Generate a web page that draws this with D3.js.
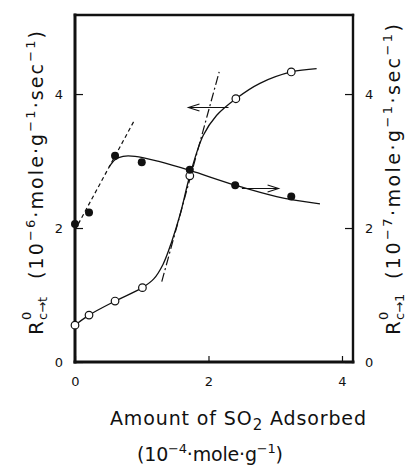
<!DOCTYPE html>
<html>
<head>
<meta charset="utf-8">
<script src="https://cdn.jsdelivr.net/npm/d3@7"></script>
<style>
  html, body { margin: 0; padding: 0; background: #fff; }
  svg { display: block; }
  text { font-family: 'DejaVu Sans', sans-serif; fill: #111; }
  .axis path { display: none; }
  .axis line { stroke: #111; stroke-width: 1.2; }
  .axis text { font-size: 13px; }
</style>
</head>
<body>
<div id="chart"></div>
<script>
// tick labels
const xTicks = [0, 2, 4];
const yTicks = [0, 2, 4];

// open circles: R c->t (left axis)
const openX = [0, 0.21, 0.60, 1.01, 1.72, 2.41, 3.24];
const openY = [0.55, 0.70, 0.91, 1.11, 2.78, 3.93, 4.33];
// filled circles: R c->1 (right axis)
const filledX = [0, 0.21, 0.60, 1.00, 1.72, 2.40, 3.24];
const filledY = [2.06, 2.23, 3.08, 2.98, 2.87, 2.64, 2.47];

// hand drawn curves
const openCurveX = [0, 0.21, 0.60, 1.01, 1.18, 1.32, 1.45, 1.58, 1.72, 1.92, 2.12, 2.41, 2.77, 3.24, 3.62];
const openCurveY = [0.55, 0.70, 0.91, 1.11, 1.24, 1.46, 1.80, 2.22, 2.78, 3.38, 3.68, 3.93, 4.16, 4.33, 4.38];
const filledCurveX = [0.51, 0.60, 0.72, 0.90, 1.27, 1.72, 2.40, 3.02, 3.67];
const filledCurveY = [2.91, 3.02, 3.07, 3.07, 2.99, 2.86, 2.64, 2.47, 2.36];

// initial slope (dashed) and tangent at inflection (dash-dot)
const slopeX = [0, 0.88];
const slopeY = [1.97, 3.59];
const tangentX = [1.30, 2.16];
const tangentY = [1.20, 4.33];

// arrows pointing to the axis each series belongs to
const leftArrowX = [2.30, 1.70];
const leftArrowY = [3.80, 3.80];
const rightArrowX = [2.50, 3.05];
const rightArrowY = [2.59, 2.59];

const width = 414, height = 472;
const margin = { top: 15, right: 61, bottom: 110, left: 75 };

const x = d3.scaleLinear().domain([0, 4.165]).range([margin.left, width - margin.right]);
const y = d3.scaleLinear().domain([0, 5.18]).range([height - margin.bottom, margin.top]);

const svg = d3.select('#chart').append('svg')
    .attr('width', width)
    .attr('height', height);

// axes, ticks point inward
svg.append('g')
    .attr('class', 'axis')
    .attr('transform', `translate(0,${y(0)})`)
    .call(d3.axisBottom(x).tickValues(xTicks).tickSize(-6).tickPadding(15).tickFormat(d3.format('d')));

svg.append('g')
    .attr('class', 'axis')
    .attr('transform', `translate(${x(0)},0)`)
    .call(d3.axisLeft(y).tickValues(yTicks).tickSize(-8).tickPadding(12).tickFormat(d3.format('d')));

svg.append('g')
    .attr('class', 'axis')
    .attr('transform', `translate(${x.range()[1]},0)`)
    .call(d3.axisRight(y).tickValues(yTicks).tickSize(-8).tickPadding(12).tickFormat(d3.format('d')));

// frame
const x0 = x.range()[0], x1 = x.range()[1], yb = y.range()[0], yt = y.range()[1];
const frame = [
    { a: [x0, yt, x0, yb], w: 3 },
    { a: [x0, yb, x1, yb], w: 3 },
    { a: [x1, yt, x1, yb], w: 2.4 },
    { a: [x0, yt, x1, yt], w: 2.4 }
];
svg.selectAll('.frame').data(frame).enter().append('line')
    .attr('x1', d => d.a[0]).attr('y1', d => d.a[1])
    .attr('x2', d => d.a[2]).attr('y2', d => d.a[3])
    .attr('stroke', '#111').attr('stroke-width', d => d.w)
    .attr('stroke-linecap', 'square');

const zip = (xs, ys) => xs.map((v, i) => [v, ys[i]]);
const curve = d3.line().x(d => x(d[0])).y(d => y(d[1])).curve(d3.curveCatmullRom.alpha(0.5));
const straight = d3.line().x(d => x(d[0])).y(d => y(d[1]));

svg.append('path').attr('d', curve(zip(openCurveX, openCurveY)))
    .attr('fill', 'none').attr('stroke', '#111').attr('stroke-width', 1.3);
svg.append('path').attr('d', curve(zip(filledCurveX, filledCurveY)))
    .attr('fill', 'none').attr('stroke', '#111').attr('stroke-width', 1.3);

svg.append('path').attr('d', straight(zip(slopeX, slopeY)))
    .attr('fill', 'none').attr('stroke', '#111').attr('stroke-width', 1.2)
    .attr('stroke-dasharray', '4,3');
svg.append('path').attr('d', straight(zip(tangentX, tangentY)))
    .attr('fill', 'none').attr('stroke', '#111').attr('stroke-width', 1.2)
    .attr('stroke-dasharray', '9,3,2,3');

// arrows
function arrow(xs, ys) {
    const p = zip(xs, ys).map(d => [x(d[0]), y(d[1])]);
    svg.append('path').attr('d', d3.line()(p))
        .attr('fill', 'none').attr('stroke', '#111').attr('stroke-width', 1.1);
    const tip = p[1], dir = Math.sign(p[1][0] - p[0][0]);
    svg.append('path')
        .attr('d', d3.line()([[tip[0] - dir * 11, tip[1] - 3.5], tip, [tip[0] - dir * 11, tip[1] + 3.5]]))
        .attr('fill', 'none').attr('stroke', '#111').attr('stroke-width', 1.1);
}
arrow(leftArrowX, leftArrowY);
arrow(rightArrowX, rightArrowY);

// markers
svg.selectAll('.open').data(zip(openX, openY)).enter().append('circle')
    .attr('cx', d => x(d[0])).attr('cy', d => y(d[1])).attr('r', 3.8)
    .attr('fill', '#fff').attr('stroke', '#111').attr('stroke-width', 1.2);
svg.selectAll('.filled').data(zip(filledX, filledY)).enter().append('circle')
    .attr('cx', d => x(d[0])).attr('cy', d => y(d[1])).attr('r', 4)
    .attr('fill', '#111');

// x title
const t1 = svg.append('text').attr('x', 110).attr('y', 425)
    .attr('font-size', 19).attr('textLength', 256).attr('lengthAdjust', 'spacing');
t1.append('tspan').text('Amount of SO');
t1.append('tspan').attr('dy', 5).attr('font-size', 15).text('2');
t1.append('tspan').attr('dy', -5).text(' Adsorbed');

const t2 = svg.append('text').attr('x', 137).attr('y', 461)
    .attr('font-size', 19).attr('textLength', 146).attr('lengthAdjust', 'spacing');
t2.append('tspan').text('(10');
t2.append('tspan').attr('dy', -8).attr('font-size', 13).text('−4');
t2.append('tspan').attr('dy', 8).text('·mole·g');
t2.append('tspan').attr('dy', -8).attr('font-size', 13).text('−1');
t2.append('tspan').attr('dy', 8).text(')');

// rotated y titles
function yTitle(px, py, sub, exp, len) {
    const g = svg.append('g').attr('transform', `translate(${px},${py}) rotate(-90)`);
    g.append('text').attr('x', 0).attr('y', 0).attr('font-size', 20).text('R');
    g.append('text').attr('x', 15).attr('y', -12).attr('font-size', 13).text('0');
    g.append('text').attr('x', 15).attr('y', 4).attr('font-size', 13).text(sub);
    const t = g.append('text').attr('x', 56).attr('y', 0).attr('font-size', 19)
        .attr('textLength', len).attr('lengthAdjust', 'spacing');
    t.append('tspan').text('(10');
    t.append('tspan').attr('dy', -8).attr('font-size', 13).text(exp);
    t.append('tspan').attr('dy', 8).text('·mole·g');
    t.append('tspan').attr('dy', -8).attr('font-size', 13).text('−1');
    t.append('tspan').attr('dy', 8).text('·sec');
    t.append('tspan').attr('dy', -8).attr('font-size', 13).text('−1');
    t.append('tspan').attr('dy', 8).text(')');
}
yTitle(43, 335, 'c→t', '−6', 248);
yTitle(400, 335, 'c→1', '−7', 255);
</script>
</body>
</html>
